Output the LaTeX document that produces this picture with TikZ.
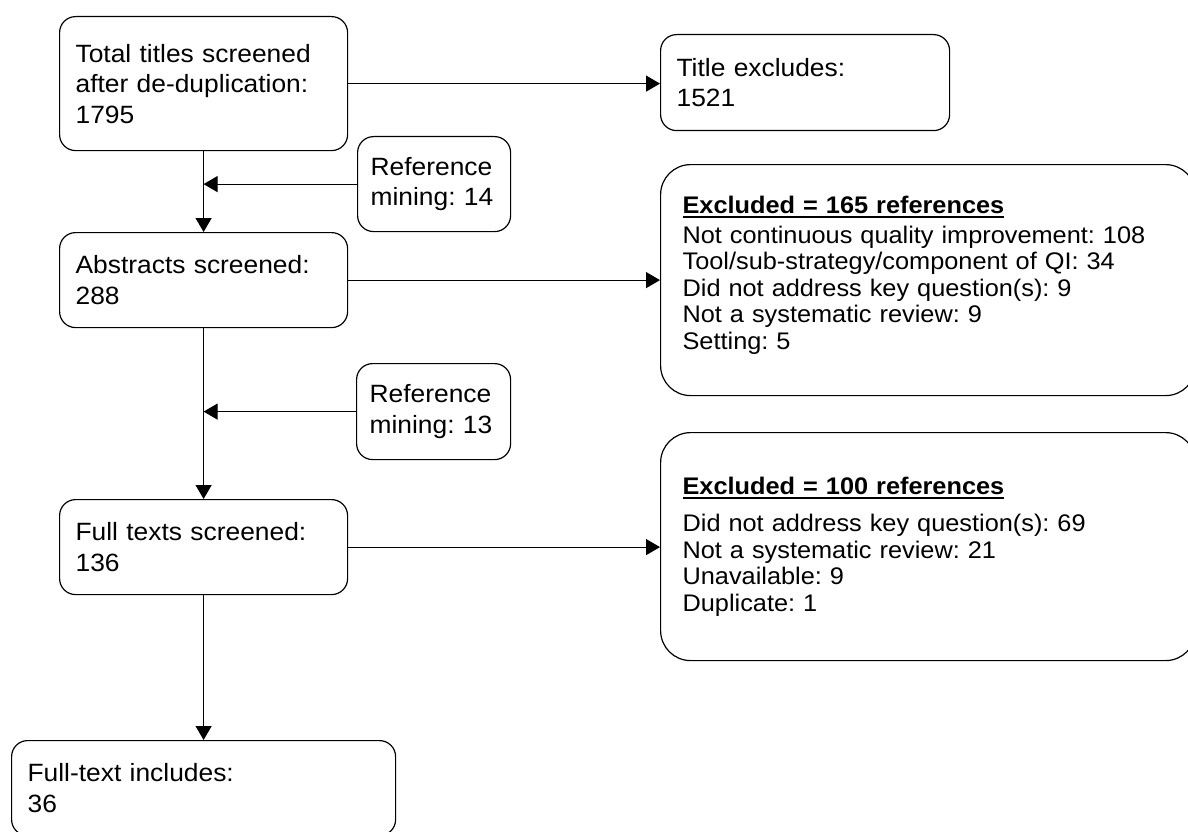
\documentclass[tikz,border=0pt]{standalone}
\usepackage{fontspec}
\setmainfont{Liberation Sans}
\newfontfamily\bxfont[FakeStretch=1.055]{Liberation Sans}
\usetikzlibrary{arrows.meta}
\frenchspacing
\newcommand\myul[1]{\setbox0\hbox{#1}\rlap{\rule[-4.5pt]{\wd0}{2pt}}\box0}
\begin{document}
\begin{tikzpicture}[x=1pt,y=-1pt,
  box/.style={draw=black, line width=1.2pt, rounded corners=16pt, anchor=north west,
    align=left, inner xsep=16pt, inner ysep=0pt, font=\bxfont\fontsize{25}{30.5}\selectfont\frenchspacing},
  refbox/.style={box, inner xsep=13pt},
  bigbox/.style={box, rounded corners=30pt, inner xsep=22pt, font=\bxfont\fontsize{24}{26.6}\selectfont\frenchspacing},
  conn/.style={line width=1.2pt, -{Triangle[length=14pt,width=16pt]}}]
\useasboundingbox (0,0) rectangle (1188,832);
\node[box, minimum width=288pt, minimum height=134pt, text width=256pt] (tot) at (59,16)
  {Total titles screened\\after de-duplication:\\1795};
\node[box, minimum width=289pt, minimum height=96pt, text width=257pt] (tex) at (660,34)
  {Title excludes:\\1521};
\node[refbox, minimum width=153pt, minimum height=95pt, text width=127pt] (ref1) at (357,136)
  {Reference\\mining: 14};
\node[box, minimum width=288pt, minimum height=95pt, text width=256pt] (abs) at (59,232)
  {Abstracts screened:\\288};
\node[bigbox, minimum width=535pt, minimum height=231pt, text width=491pt] (ex1) at (660,164)
  {\myul{\bfseries Excluded = 165 references}\\[3.4pt]
   Not continuous quality improvement: 108\\
   Tool/sub-strategy/component of QI: 34\\
   Did not address key question(s): 9\\
   Not a systematic review: 9\\
   Setting: 5\rule[-15pt]{0pt}{0pt}};
\node[refbox, minimum width=154pt, minimum height=96pt, text width=128pt] (ref2) at (356,363)
  {Reference\\mining: 13};
\node[box, minimum width=288pt, minimum height=95pt, text width=256pt] (full) at (59,499)
  {Full texts screened:\\136};
\node[bigbox, minimum width=535pt, minimum height=228pt, text width=491pt] (ex2) at (660,432)
  {\myul{\bfseries Excluded = 100 references}\\[10.4pt]
   Did not address key question(s): 69\\
   Not a systematic review: 21\\
   Unavailable: 9\\
   Duplicate: 1};
\node[box, minimum width=384pt, minimum height=95pt, text width=352pt] (incl) at (11,740)
  {Full-text includes:\\36};
\draw[conn] (tot.east) -- (tot.east -| tex.west);
\draw[conn] (tot.south) -- (abs.north);
\draw[conn] (ref1.west) -- (ref1.west -| tot.south);
\draw[conn] (abs.east) -- (abs.east -| ex1.west);
\draw[conn] (abs.south) -- (full.north);
\draw[conn] (ref2.west) -- (ref2.west -| abs.south);
\draw[conn] (full.east) -- (full.east -| ex2.west);
\draw[conn] (full.south) -- (incl.north);
\end{tikzpicture}
\end{document}
